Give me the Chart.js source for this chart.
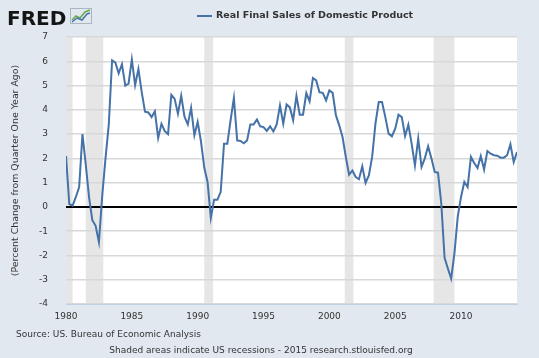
<!DOCTYPE html>
<html>
<head>
<meta charset="utf-8">
<script src="https://cdn.jsdelivr.net/npm/chart.js@4/dist/chart.umd.min.js"></script>
<style>
  html, body { margin: 0; padding: 0; background: #e1e8f0; }
  #wrap { width: 539px; height: 358px; }
</style>
</head>
<body>
<div id="wrap"><canvas id="fredChart" width="539" height="358"></canvas></div>
<script>
// quarterly values, 1980 Q1 .. 2014 Q2 (percent change from quarter one year ago)
const startYear = 1980;
const values = [
  2.1, 0.12, 0.05, 0.41, 0.82, 3.0, 1.75, 0.4, -0.55, -0.78,
  -1.45, 0.45, 2.0, 3.4, 6.04, 5.94, 5.5, 5.88, 5.0, 5.08,
  6.08, 5.02, 5.68, 4.73, 3.92, 3.89, 3.7, 3.94, 2.84, 3.42,
  3.12, 3.0, 4.62, 4.45, 3.84, 4.58, 3.72, 3.4, 4.08, 2.95,
  3.5, 2.7, 1.62, 1.03, -0.45, 0.3, 0.3, 0.62, 2.6, 2.6,
  3.57, 4.49, 2.74, 2.72, 2.62, 2.74, 3.4, 3.4, 3.6, 3.32,
  3.29, 3.13, 3.32, 3.11, 3.4, 4.18, 3.43, 4.22, 4.1, 3.57,
  4.58, 3.8, 3.8, 4.69, 4.35, 5.31, 5.21, 4.72, 4.7, 4.39,
  4.8, 4.7, 3.77, 3.36, 2.88, 2.06, 1.33, 1.5, 1.23, 1.14,
  1.67, 0.99, 1.3, 2.06, 3.43, 4.32, 4.32, 3.7, 3.02, 2.91,
  3.22, 3.8, 3.7, 2.92, 3.39, 2.6, 1.71, 2.81, 1.65, 2.0,
  2.5, 2.0, 1.44, 1.41, 0.14, -2.1, -2.54, -2.95, -1.9, -0.4,
  0.41, 1.03, 0.82, 2.06, 1.81, 1.6, 2.1, 1.54, 2.3, 2.19,
  2.13, 2.11, 2.03, 2.03, 2.13, 2.58, 1.85, 2.26
];
const quarters = values.map((v, i) => startYear + i / 4);

// recession periods as [start, end] in decimal years
const recessions = [
  [1980.0, 1980.5],
  [1981.5, 1982.83],
  [1990.5, 1991.17],
  [2001.17, 2001.83],
  [2007.92, 2009.5]
];
const yearTicks = [1980, 1985, 1990, 1995, 2000, 2005, 2010];

const FONT = 'DejaVu Sans';

const fredDecor = {
  id: 'fredDecor',
  beforeDraw(chart) {
    const { ctx, chartArea: a, scales: { x } } = chart;
    ctx.save();
    ctx.fillStyle = '#e1e8f0';
    ctx.fillRect(0, 0, chart.width, chart.height);
    ctx.fillStyle = '#ffffff';
    ctx.fillRect(a.left, a.top, a.right - a.left, a.bottom - a.top);
    ctx.fillStyle = '#e6e6e6';
    recessions.forEach(r => {
      const x0 = Math.max(x.getPixelForValue(r[0]), a.left);
      const x1 = Math.min(x.getPixelForValue(r[1]), a.right);
      ctx.fillRect(x0, a.top, x1 - x0, a.bottom - a.top);
    });
    ctx.restore();
  },
  afterDraw(chart) {
    const { ctx, chartArea: a } = chart;
    ctx.save();
    // logo
    ctx.fillStyle = '#151515';
    ctx.font = 'bold 20px ' + FONT;
    ctx.textBaseline = 'alphabetic';
    ctx.textAlign = 'left';
    ctx.fillText('FRED', 7, 25);
    ctx.strokeStyle = '#aab6c2';
    ctx.lineWidth = 1;
    ctx.strokeRect(70.5, 8.5, 21, 15);
    ctx.lineWidth = 1.5;
    ctx.strokeStyle = '#6aa84f';
    ctx.beginPath();
    ctx.moveTo(72, 20); ctx.lineTo(76, 16); ctx.lineTo(80, 18); ctx.lineTo(85, 12); ctx.lineTo(90, 10);
    ctx.stroke();
    ctx.strokeStyle = '#4572a7';
    ctx.beginPath();
    ctx.moveTo(72, 22); ctx.lineTo(77, 18); ctx.lineTo(82, 20); ctx.lineTo(87, 14); ctx.lineTo(90, 13);
    ctx.stroke();

    // legend
    ctx.strokeStyle = '#4572a7';
    ctx.lineWidth = 2;
    ctx.beginPath();
    ctx.moveTo(197, 16); ctx.lineTo(212, 16);
    ctx.stroke();
    ctx.fillStyle = '#333333';
    ctx.font = 'bold 9.5px ' + FONT;
    ctx.textBaseline = 'middle';
    ctx.fillText('Real Final Sales of Domestic Product', 216, 16);

    // y axis title
    ctx.font = '9.4px ' + FONT;
    ctx.translate(16, (a.top + a.bottom) / 2);
    ctx.rotate(-Math.PI / 2);
    ctx.textAlign = 'center';
    ctx.fillText('(Percent Change from Quarter One Year Ago)', 0, 0);
    ctx.restore();

    ctx.save();
    ctx.fillStyle = '#333333';
    ctx.font = '9px ' + FONT;
    ctx.textBaseline = 'middle';
    ctx.textAlign = 'left';
    ctx.fillText('Source: US. Bureau of Economic Analysis', 16, 335);
    ctx.textAlign = 'center';
    ctx.fillText('Shaded areas indicate US recessions - 2015 research.stlouisfed.org', 261, 351);
    ctx.restore();
  }
};

new Chart(document.getElementById('fredChart').getContext('2d'), {
  type: 'line',
  data: {
    datasets: [{
      label: 'Real Final Sales of Domestic Product',
      data: quarters.map((q, i) => ({ x: q, y: values[i] })),
      borderColor: '#4572a7',
      backgroundColor: '#4572a7',
      borderWidth: 2,
      pointRadius: 0,
      tension: 0
    }]
  },
  options: {
    responsive: false,
    animation: false,
    layout: { padding: { left: 0, top: 37, right: 22, bottom: 0 } },
    plugins: {
      legend: { display: false },
      tooltip: { enabled: false }
    },
    scales: {
      x: {
        type: 'linear',
        min: startYear,
        max: quarters[quarters.length - 1],
        afterBuildTicks: scale => { scale.ticks = yearTicks.map(v => ({ value: v })); },
        afterFit: scale => { scale.height = 54; },
        grid: { display: false, drawTicks: true, tickLength: 4, tickColor: '#c0d0e0' },
        border: { color: '#c0d0e0' },
        ticks: {
          padding: 3,
          color: '#333333',
          font: { family: FONT, size: 9 },
          maxRotation: 0,
          callback: v => String(v)
        }
      },
      y: {
        min: -4,
        max: 7,
        afterFit: scale => { scale.width = 66; },
        border: { display: false },
        grid: {
          drawTicks: false,
          color: c => c.tick.value === 0 ? '#000000' : '#d8d8d8',
          lineWidth: c => c.tick.value === 0 ? 2 : 1.5
        },
        ticks: {
          stepSize: 1,
          padding: 18,
          color: '#333333',
          font: { family: FONT, size: 9 }
        }
      }
    }
  },
  plugins: [fredDecor]
});
</script>
</body>
</html>
